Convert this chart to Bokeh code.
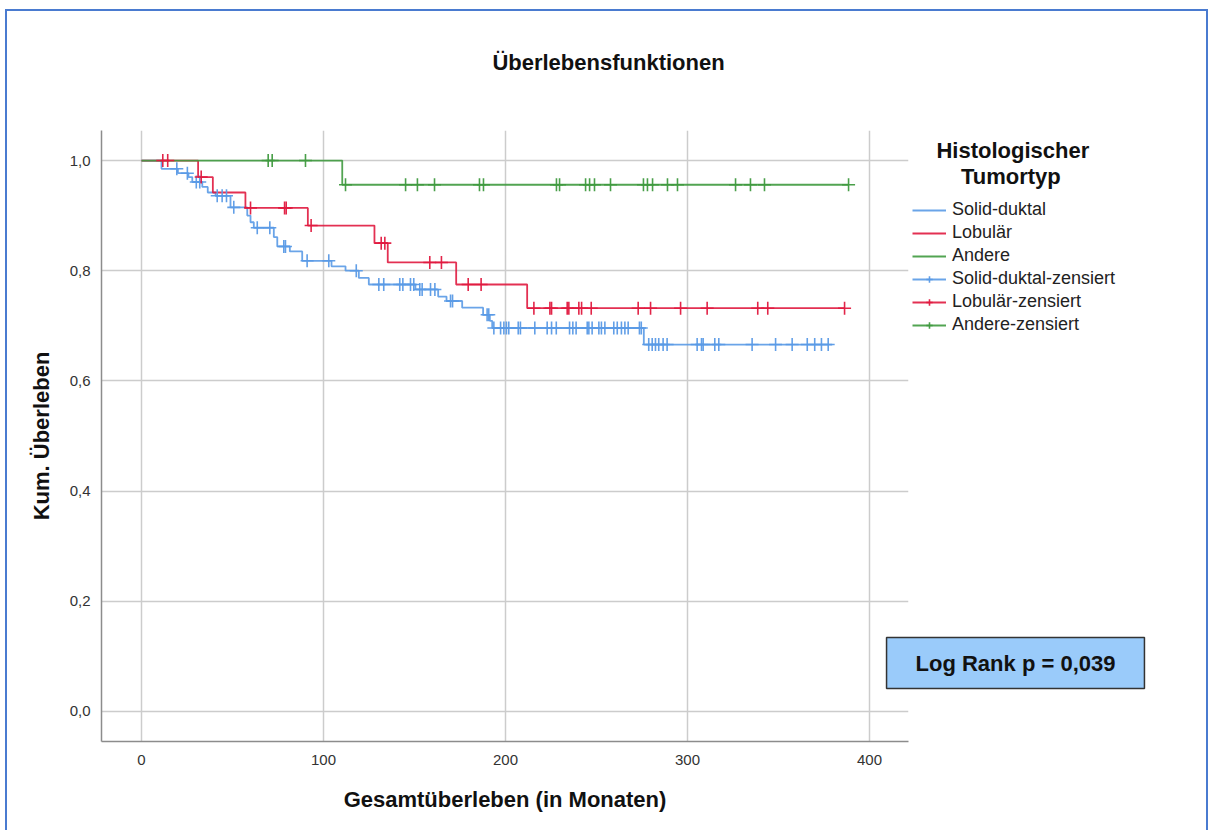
import numpy as np
from bokeh.plotting import figure
from bokeh.models import Range1d, FixedTicker, Label, Legend, LegendItem
from bokeh.embed import file_html
from bokeh.resources import INLINE

# ---------------- data (months, cumulative survival) ----------------
groups = ["Solid-duktal", "Lobulär", "Andere"]

blue_t = [0, 11.0, 20.0, 25.8, 27.9, 33.4, 36.4, 40.7, 48.9, 58.1, 59.9, 61.7, 72.7, 74.6,
          81.5, 88.3, 104.4, 112.1, 119.4, 124.9, 150.5, 163.0, 167.6, 176.2, 187.7, 191.4,
          192.7, 276.0]
blue_s = [1.0, 0.985, 0.977, 0.970, 0.961, 0.952, 0.942, 0.936, 0.915, 0.900, 0.888, 0.878,
          0.861, 0.844, 0.835, 0.818, 0.808, 0.800, 0.787, 0.775, 0.766, 0.753, 0.745, 0.733,
          0.720, 0.709, 0.696, 0.666]
blue_end = 379.5
blue_cens = [19.4, 25.2, 30.1, 32.0, 41.6, 44.3, 46.7, 50.7, 63.6, 70.5, 78.2, 79.1, 91.0,
             102.9, 118.0, 130.4, 133.1, 141.9, 143.6, 147.8, 149.6, 152.9, 154.2, 158.8,
             161.2, 169.8, 170.9, 189.9, 190.8, 193.6, 197.3, 199.1, 200.5, 201.8, 207.0,
             208.2, 216.1, 222.9, 225.3, 227.9, 235.2, 237.0, 238.8, 244.9, 245.8, 247.6,
             251.3, 252.7, 254.6, 259.5, 261.4, 263.7, 265.6, 267.4, 273.6, 274.6, 278.7,
             280.6, 282.4, 284.2, 286.6, 288.8, 305.3, 307.7, 308.6, 315.0, 317.2, 335.5,
             348.4, 357.5, 365.8, 369.9, 373.6, 377.3]

red_t = [0, 31.1, 39.2, 57.1, 91.4, 128.0, 135.3, 172.9, 211.9]
red_s = [1.0, 0.970, 0.942, 0.914, 0.882, 0.850, 0.815, 0.775, 0.732]
red_end = 386.3
red_cens = [11.7, 14.4, 32.8, 59.9, 78.6, 79.5, 93.2, 131.7, 133.7, 158.4, 164.8, 179.5,
            186.6, 215.6, 224.4, 225.3, 233.9, 234.8, 240.3, 241.8, 247.1, 272.9, 279.7,
            296.2, 310.8, 338.6, 344.1, 386.3]

green_t = [0, 110.3]
green_s = [1.0, 0.956]
green_end = 388.5
green_cens = [69.6, 71.8, 90.1, 112.1, 145.1, 151.6, 161.0, 185.7, 187.9, 228.0, 229.7,
              244.0, 246.2, 248.9, 257.7, 275.8, 278.0, 280.8, 289.0, 294.5, 326.4, 334.6,
              342.3, 388.5]

y_ticks = [0.0, 0.2, 0.4, 0.6, 0.8, 1.0]
y_tick_labels = ["0,0", "0,2", "0,4", "0,6", "0,8", "1,0"]
x_ticks = [0, 100, 200, 300, 400]

title_text = "Überlebensfunktionen"
x_label = "Gesamtüberleben (in Monaten)"
y_label = "Kum. Überleben"
legend_title = ["Histologischer", "Tumortyp"]
logrank_text = "Log Rank p = 0,039"

colors = ["#5a9ae6", "#e0193f", "#3f9a3f"]
FONT = "Liberation Sans"
BORDER = "#4a7bd0"

# ---------------- figure ----------------
p = figure(width=1212, height=830, frame_width=807, frame_height=611,
           output_backend="svg", toolbar_location=None, title=None,
           x_range=Range1d(-21.98, 421.43), y_range=Range1d(-0.0545, 1.0545),
           min_border_left=101, min_border_right=304, min_border_top=130,
           min_border_bottom=89)
p.outline_line_color = None
p.background_fill_color = "white"
p.border_fill_color = None
grad = f"linear-gradient({BORDER},{BORDER})"
p.styles = {
    "background": (f"{grad} 5px 9px / 1203px 2px no-repeat, "
                   f"{grad} 5px 9px / 2px 830px no-repeat, "
                   f"{grad} 1206px 9px / 2px 830px no-repeat, white"),
}

for ax in (p.xaxis[0], p.yaxis[0]):
    ax.major_tick_line_color = None
    ax.minor_tick_line_color = None
    ax.axis_line_color = "#8c8c8c"
    ax.axis_line_width = 1.5
    ax.major_label_text_font = FONT
    ax.major_label_text_font_size = "15px"
    ax.major_label_text_color = "#333333"
    ax.axis_label_text_font = FONT
    ax.axis_label_text_font_size = "22px"
    ax.axis_label_text_font_style = "bold"
    ax.axis_label_text_color = "#111111"

p.xaxis.ticker = FixedTicker(ticks=x_ticks)
p.yaxis.ticker = FixedTicker(ticks=y_ticks)
p.yaxis.major_label_overrides = {t: l for t, l in zip(y_ticks, y_tick_labels)}
p.xaxis.axis_label = x_label
p.yaxis.axis_label = y_label
p.xaxis.major_label_standoff = 7
p.yaxis.major_label_standoff = 5
p.xaxis.axis_label_standoff = 19
p.yaxis.axis_label_standoff = 13

p.xgrid.ticker = FixedTicker(ticks=x_ticks)
p.ygrid.ticker = FixedTicker(ticks=y_ticks)
for g in (p.xgrid[0], p.ygrid[0]):
    g.grid_line_color = "#cccccc"
    g.grid_line_width = 1.5

# ---------------- curves ----------------
def surv_at(times, surv, t):
    idx = np.searchsorted(np.asarray(times), np.asarray(t), side="right") - 1
    return np.asarray(surv)[idx]

series = [
    (blue_t, blue_s, blue_end, blue_cens),
    (red_t, red_s, red_end, red_cens),
    (green_t, green_s, green_end, green_cens),
]

step_r, cens_r = [], []
for (t, s, end, cens), c in zip(series, colors):
    xs = list(t) + [end]
    ys = list(s) + [s[-1]]
    r = p.step(xs, ys, mode="after", line_color=c, line_width=1.8, line_alpha=0.9)
    step_r.append(r)
for (t, s, end, cens), c in zip(series, colors):
    cy = surv_at(t, s, cens)
    r = p.scatter(cens, cy, marker="cross", size=13, line_color=c, line_width=1.6,
                  line_alpha=0.95)
    cens_r.append(r)

# ---------------- legend (right side panel, not clipped) ----------------
NB = "\u00a0"
items = [LegendItem(label=g, renderers=[r]) for g, r in zip(groups, step_r)]
items += [LegendItem(label=g + "-zensiert", renderers=[sr, cr])
          for g, sr, cr in zip(groups, step_r, cens_r)]
legend = Legend(items=items, location=(4, 406), padding=0, margin=0,
                title=NB * 4 + legend_title[0] + "\n" + NB * 8 + legend_title[1],
                title_text_font=FONT, title_text_font_size="22px",
                title_text_font_style="bold", title_text_color="#111111",
                title_text_line_height=0.95, title_standoff=9,
                glyph_width=34, glyph_height=16, label_height=16, spacing=2,
                label_standoff=6, label_text_font=FONT, label_text_font_size="18px",
                label_text_color="#222222", background_fill_alpha=0,
                border_line_color=None)
p.add_layout(legend, "right")

# ---------------- texts (canvas coordinates, in the top panel) ----------------
def clabel(x, y, text, size, **kw):
    lab = Label(x=x, y=y, x_units="canvas", y_units="canvas", text=text,
                text_font=FONT, text_font_size=size, text_font_style="bold",
                text_align="center", text_baseline="middle", text_color="#111111", **kw)
    p.add_layout(lab, "above")
    return lab

clabel(608, 62, title_text, "22px")
clabel(1015, 662.5, logrank_text, "22px",
       background_fill_color="#9acbfa", border_line_color="#333333",
       border_line_width=1.5,
       padding=dict(left=29, right=29, top=13, bottom=13))

open("out.html", "w").write(file_html(p, INLINE))
